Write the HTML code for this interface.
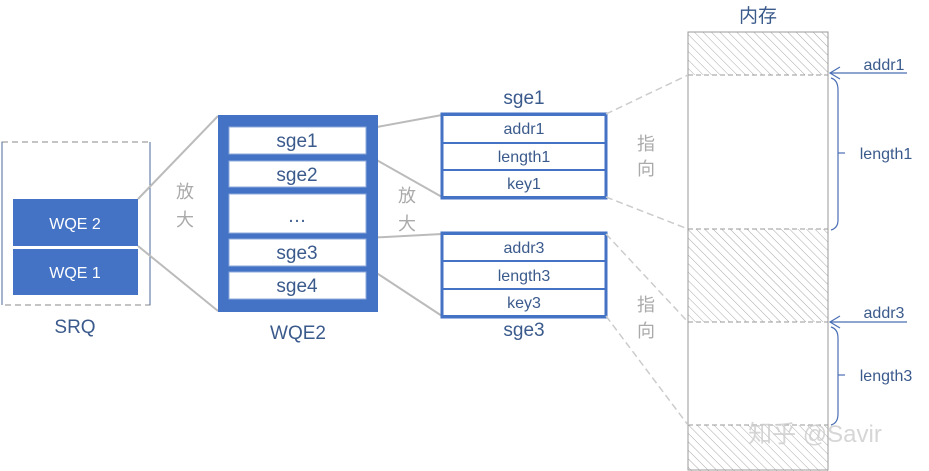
<!DOCTYPE html>
<html><head><meta charset="utf-8"><style>
body{margin:0;background:#fff;}
svg{display:block;font-family:"Liberation Sans","Noto Sans CJK SC",sans-serif;}
</style></head><body>
<svg width="929" height="471" viewBox="0 0 929 471">
<defs>
<pattern id="h" width="6" height="6" patternUnits="userSpaceOnUse" patternTransform="rotate(-45)">
<rect width="6" height="6" fill="#fff"/><line x1="0" y1="0" x2="0" y2="6" stroke="#aaa" stroke-width="1"/>
</pattern>
</defs>
<!-- SRQ -->
<rect x="2" y="142" width="148" height="163" fill="none" stroke="#888" stroke-dasharray="6,4"/>
<line x1="2" y1="142" x2="2" y2="305" stroke="#4a6a9a"/>
<line x1="150" y1="142" x2="150" y2="305" stroke="#4a6a9a"/>
<rect x="13" y="199" width="125" height="47" fill="#4472c4"/>
<rect x="13" y="249" width="125" height="46" fill="#4472c4"/>
<text x="75" y="229" fill="#fff" font-size="16" text-anchor="middle">WQE 2</text>
<text x="75" y="278" fill="#fff" font-size="16" text-anchor="middle">WQE 1</text>
<text x="75" y="333" fill="#3b5a8c" font-size="19" text-anchor="middle">SRQ</text>
<!-- zoom lines -->
<g stroke="#bbb" stroke-width="2" fill="none">
<line x1="138" y1="199" x2="218" y2="116"/>
<line x1="138" y1="246" x2="218" y2="311"/>
<line x1="366" y1="129" x2="442" y2="115"/>
<line x1="366" y1="154" x2="442" y2="197"/>
<line x1="366" y1="238" x2="442" y2="234"/>
<line x1="366" y1="266" x2="442" y2="316"/>
</g>
<g fill="#aaa" font-size="18" text-anchor="middle">
<text x="185" y="198">放</text><text x="185" y="226">大</text>
<text x="407" y="202">放</text><text x="407" y="230">大</text>
<text x="646" y="150">指</text><text x="646" y="175">向</text>
<text x="646" y="311">指</text><text x="646" y="337">向</text>
</g>
<!-- WQE2 -->
<rect x="218" y="115" width="160" height="197" fill="#4472c4"/>
<g fill="#fff" stroke="#8eaadb" stroke-width="1">
<rect x="229" y="127" width="137" height="27"/>
<rect x="229" y="161" width="137" height="26"/>
<rect x="229" y="194" width="137" height="39"/>
<rect x="229" y="239" width="137" height="27"/>
<rect x="229" y="272" width="137" height="27"/>
</g>
<g fill="#3b5a8c" font-size="19" text-anchor="middle">
<text x="297" y="147">sge1</text>
<text x="297" y="181">sge2</text>
<text x="297" y="222">…</text>
<text x="297" y="259">sge3</text>
<text x="297" y="292">sge4</text>
<text x="298" y="339">WQE2</text>
<text x="524" y="104">sge1</text>
<text x="524" y="336">sge3</text>
<text x="758" y="22">内存</text>
</g>
<!-- sge boxes -->
<g fill="#fff" stroke="#4472c4">
<rect x="442" y="115" width="164" height="28" stroke-width="2"/>
<rect x="442" y="143" width="164" height="27" stroke-width="2"/>
<rect x="442" y="170" width="164" height="27" stroke-width="2"/>
<rect x="442" y="234" width="164" height="27" stroke-width="2"/>
<rect x="442" y="261" width="164" height="28" stroke-width="2"/>
<rect x="442" y="289" width="164" height="27" stroke-width="2"/>
</g>
<rect x="442" y="114" width="164" height="84" fill="none" stroke="#4472c4" stroke-width="3"/>
<rect x="442" y="233" width="164" height="84" fill="none" stroke="#4472c4" stroke-width="3"/>
<g fill="#3b5a8c" font-size="16" text-anchor="middle">
<text x="524" y="134">addr1</text><text x="524" y="162">length1</text><text x="524" y="189">key1</text>
<text x="524" y="253">addr3</text><text x="524" y="281">length3</text><text x="524" y="308">key3</text>
</g>
<!-- memory -->
<rect x="688" y="32" width="140" height="43" fill="url(#h)"/>
<rect x="688" y="229" width="140" height="93" fill="url(#h)"/>
<rect x="688" y="425" width="140" height="46" fill="url(#h)"/>
<rect x="688" y="32" width="140" height="438" fill="none" stroke="#999"/>
<g stroke="#999" stroke-dasharray="5,3">
<line x1="688" y1="75" x2="828" y2="75"/><line x1="688" y1="229" x2="828" y2="229"/>
<line x1="688" y1="322" x2="828" y2="322"/><line x1="688" y1="425" x2="828" y2="425"/>
</g>
<g stroke="#ccc" stroke-width="1.5" stroke-dasharray="7,4" fill="none">
<line x1="606" y1="114" x2="688" y2="75"/>
<line x1="606" y1="197" x2="688" y2="229"/>
<line x1="606" y1="234" x2="688" y2="322"/>
<line x1="606" y1="316" x2="688" y2="425"/>
</g>
<g stroke="#4a6fb5" stroke-width="1.2" fill="none">
<line x1="907" y1="73" x2="830" y2="73"/><polyline points="840,67 830,73 840,79"/>
<line x1="907" y1="322" x2="830" y2="322"/><polyline points="840,316 830,322 840,328"/>
<path d="M831,78 Q838,80 838,90 V220 Q838,228 831,230"/>
<line x1="838" y1="153" x2="845" y2="153"/>
<path d="M831,327 Q838,329 838,338 V414 Q838,423 831,425"/>
<line x1="838" y1="375" x2="845" y2="375"/>
</g>
<g fill="#3b5a8c" font-size="16" text-anchor="middle">
<text x="884" y="70">addr1</text><text x="886" y="159">length1</text>
<text x="884" y="318">addr3</text><text x="886" y="381">length3</text>
</g>
<text x="815" y="442" fill="#ccc" font-size="24" text-anchor="middle" opacity="0.8">知乎 @Savir</text>
</svg>
</body></html>
